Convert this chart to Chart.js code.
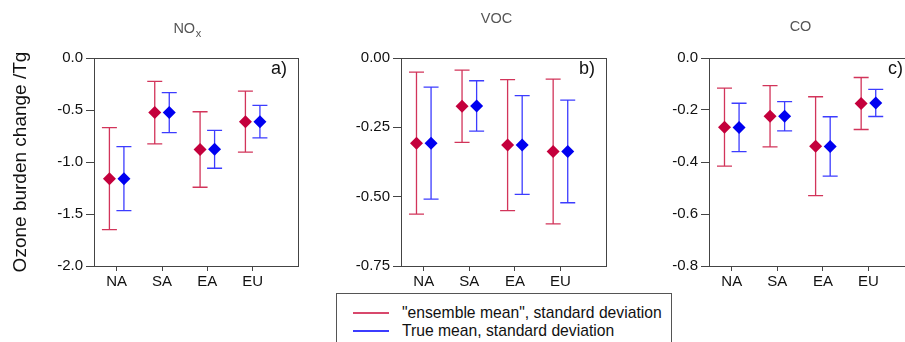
<!DOCTYPE html>
<html>
<head>
<meta charset="utf-8">
<script src="https://cdn.jsdelivr.net/npm/chart.js@4.4.1/dist/chart.umd.min.js"></script>
<style>
  html, body { margin: 0; padding: 0; background: #fff; width: 905px; height: 342px; overflow: hidden; }
  canvas { position: absolute; top: 0; }
  #legend { position: absolute; left: 336px; top: 293px; width: 336px; height: 60px; border: 1px solid #555;
            box-sizing: border-box; font: 15.7px "Liberation Sans", Arial, sans-serif; color: #111; background: #fff; }
  .row { position: absolute; left: 16px; height: 18px; line-height: 18px; display: flex; align-items: center; white-space: nowrap; }
  .sw { width: 36px; height: 1.5px; margin-right: 13px; }
</style>
</head>
<body>
<canvas id="c-nox" width="310" height="300" style="left:0"></canvas>
<canvas id="c-voc" width="305" height="300" style="left:310px"></canvas>
<canvas id="c-co" width="310" height="300" style="left:615px"></canvas>
<div id="legend">
  <div class="row" style="top:10px"><span class="sw" style="background:#d8486c"></span>"ensemble mean", standard deviation</div>
  <div class="row" style="top:28px"><span class="sw" style="background:#3c3cff"></span>True mean, standard deviation</div>
</div>
<script>
// ── data (ozone burden change, Tg) ──
const categories = ['NA', 'SA', 'EA', 'EU'];

const noxEnsMean  = [-1.16, -0.525, -0.88, -0.612];
const noxEnsSd    = [0.49, 0.30, 0.363, 0.294];
const noxTrueMean = [-1.16, -0.525, -0.878, -0.612];
const noxTrueSd   = [0.307, 0.193, 0.182, 0.156];

const vocEnsMean  = [-0.307, -0.174, -0.314, -0.337];
const vocEnsSd    = [0.256, 0.130, 0.236, 0.261];
const vocTrueMean = [-0.307, -0.173, -0.314, -0.337];
const vocTrueSd   = [0.202, 0.091, 0.178, 0.185];

const coEnsMean  = [-0.266, -0.224, -0.339, -0.175];
const coEnsSd    = [0.150, 0.118, 0.190, 0.100];
const coTrueMean = [-0.267, -0.224, -0.340, -0.173];
const coTrueSd   = [0.093, 0.056, 0.114, 0.052];

const seriesShift = 0.16;   // red left of the category, blue right
const FONT = '"Liberation Sans", Arial, sans-serif';

// error bars (mean ± sd) drawn through the chart scales
const errorBars = {
  id: 'errorBars',
  beforeDatasetsDraw(chart) {
    const { ctx, scales: { x, y } } = chart;
    chart.data.datasets.forEach(ds => {
      ctx.save();
      ctx.strokeStyle = ds.errColor;
      ctx.lineWidth = 1.3;
      ds.data.forEach((p, i) => {
        const px = x.getPixelForValue(p.x);
        const top = y.getPixelForValue(p.y + ds.sd[i]);
        const bot = y.getPixelForValue(p.y - ds.sd[i]);
        ctx.beginPath();
        ctx.moveTo(px, top); ctx.lineTo(px, bot);
        ctx.moveTo(px - 7.5, top); ctx.lineTo(px + 7.5, top);
        ctx.moveTo(px - 7.5, bot); ctx.lineTo(px + 7.5, bot);
        ctx.stroke();
      });
      ctx.restore();
    });
  }
};

// frame, panel title (with optional subscript) and panel tag
const panelDecor = {
  id: 'panelDecor',
  afterDraw(chart, args, o) {
    const { ctx, chartArea: a } = chart;
    ctx.save();
    ctx.strokeStyle = '#444';
    ctx.lineWidth = 1;
    ctx.strokeRect(a.left + 0.5, a.top + 0.5, a.right - a.left, a.bottom - a.top);

    ctx.fillStyle = '#555';
    ctx.textBaseline = 'middle';
    ctx.font = '14.5px ' + FONT;
    const wMain = ctx.measureText(o.title).width;
    ctx.font = '11px ' + FONT;
    const wSub = o.sub ? ctx.measureText(o.sub).width : 0;
    const cx = (a.left + a.right) / 2 + o.titleDx;
    const x0 = cx - (wMain + wSub) / 2;
    ctx.textAlign = 'left';
    ctx.font = '14.5px ' + FONT;
    ctx.fillText(o.title, x0, o.titleY);
    if (o.sub) {
      ctx.font = '11px ' + FONT;
      ctx.fillText(o.sub, x0 + wMain + 0.5, o.titleY + 5);
    }

    ctx.fillStyle = '#111';
    ctx.font = '18px ' + FONT;
    ctx.textAlign = 'right';
    ctx.fillText(o.tag, a.right - 11, a.top + 11);
    ctx.restore();
  }
};

function makePanel(id, cfg) {
  const pts = (mean, dx) => mean.map((v, i) => ({ x: i + 1 + dx, y: v }));
  return new Chart(document.getElementById(id), {
    type: 'scatter',
    data: {
      datasets: [
        { label: '"ensemble mean", standard deviation', data: pts(cfg.ensMean, -seriesShift), sd: cfg.ensSd,
          errColor: '#d2345a', backgroundColor: '#c4003c', pointStyle: 'rectRot', pointRadius: 6.5, borderWidth: 0 },
        { label: 'True mean, standard deviation', data: pts(cfg.trueMean, seriesShift), sd: cfg.trueSd,
          errColor: '#3c3cff', backgroundColor: '#0000f0', pointStyle: 'rectRot', pointRadius: 6.5, borderWidth: 0 }
      ]
    },
    options: {
      responsive: false, animation: false,
      layout: { padding: { top: 58, right: cfg.padRight, bottom: 0, left: 0 } },
      plugins: {
        legend: { display: false }, tooltip: { enabled: false },
        panelDecor: { title: cfg.title, sub: cfg.sub, titleDx: cfg.titleDx, titleY: cfg.titleY, tag: cfg.tag }
      },
      scales: {
        x: {
          type: 'linear', min: 0.5, max: 5,
          afterBuildTicks: s => { s.ticks = categories.map((c, i) => ({ value: i + 1 })); },
          afterFit: s => { s.height = 34; },
          ticks: { callback: v => categories[v - 1], color: '#111', font: { family: FONT, size: 15 }, padding: 2, maxRotation: 0 },
          grid: { drawOnChartArea: false, tickLength: 5, color: '#444' },
          border: { color: '#444' }
        },
        y: {
          min: cfg.yMin, max: 0,
          afterFit: s => { s.width = cfg.yWidth; },
          ticks: { stepSize: cfg.step, callback: v => Number(v).toFixed(cfg.dec), color: '#111', font: { family: FONT, size: 15 }, padding: 3 },
          grid: { drawOnChartArea: false, tickLength: 8, color: '#444' },
          border: { color: '#444' },
          title: { display: !!cfg.yTitle, text: cfg.yTitle, color: '#111', font: { family: FONT, size: 19 }, padding: { top: 9, bottom: 0 } }
        }
      }
    },
    plugins: [errorBars, panelDecor]
  });
}

makePanel('c-nox', { ensMean: noxEnsMean, ensSd: noxEnsSd, trueMean: noxTrueMean, trueSd: noxTrueSd,
  yMin: -2, step: 0.5, dec: 1, yWidth: 94, padRight: 12, title: 'NO', sub: 'x', titleDx: -9, titleY: 29, tag: 'a)',
  yTitle: 'Ozone burden change /Tg' });
makePanel('c-voc', { ensMean: vocEnsMean, ensSd: vocEnsSd, trueMean: vocTrueMean, trueSd: vocTrueSd,
  yMin: -0.75, step: 0.25, dec: 2, yWidth: 91, padRight: 9, title: 'VOC', titleDx: -7, titleY: 19, tag: 'b)' });
makePanel('c-co', { ensMean: coEnsMean, ensSd: coEnsSd, trueMean: coTrueMean, trueSd: coTrueSd,
  yMin: -0.8, step: 0.2, dec: 1, yWidth: 94, padRight: 11, title: 'CO', titleDx: -11, titleY: 27, tag: 'c)' });
</script>
</body>
</html>
